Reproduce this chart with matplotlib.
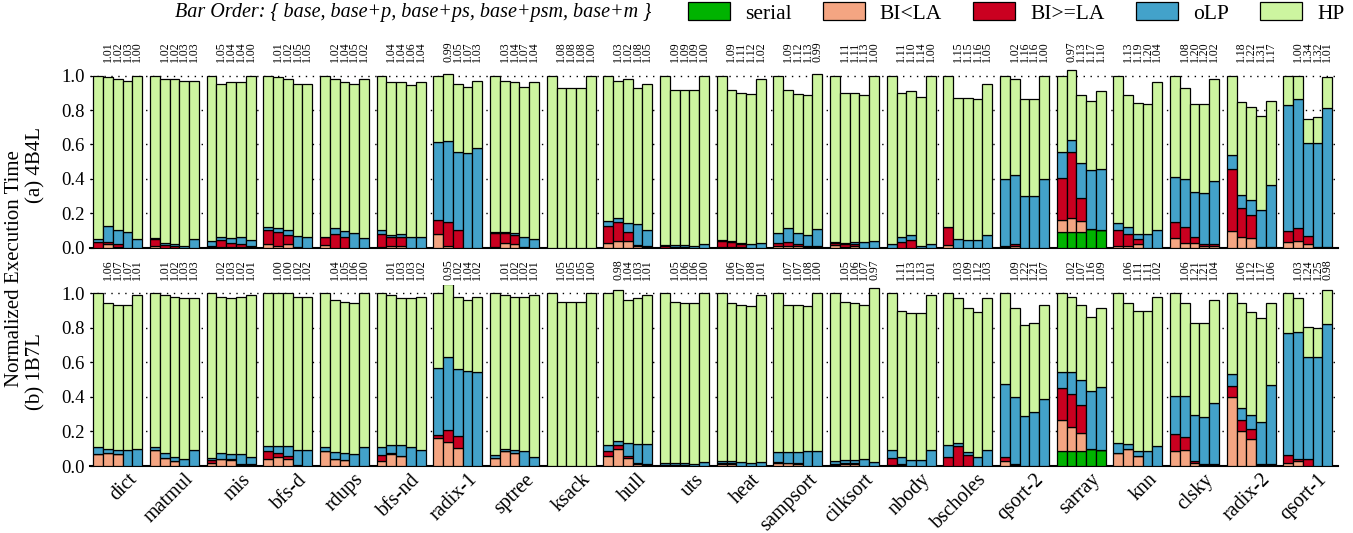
import numpy as np
import matplotlib
matplotlib.use("Agg")
import matplotlib.pyplot as plt
from matplotlib.patches import Patch

plt.rcParams['font.family'] = ['Liberation Serif', 'DejaVu Serif']

benchmarks = ["dict", "matmul", "mis", "bfs-d", "rdups", "bfs-nd", "radix-1",
              "sptree", "ksack", "hull", "uts", "heat", "sampsort", "cilksort",
              "nbody", "bscholes", "qsort-2", "sarray", "knn", "clsky",
              "radix-2", "qsort-1"]

seg_names = ["serial", "BI<LA", "BI>=LA", "oLP", "HP"]
seg_colors = ["#00b300", "#f4a582", "#ca0020", "#43a2ca", "#cdf5a0"]

# ---- 4B4L: speedups of base+p, base+ps, base+psm, base+m over base
speedup_a = [
    [1.01, 1.02, 1.03, 1.00], [1.02, 1.02, 1.03, 1.03], [1.05, 1.04, 1.04, 1.00],
    [1.01, 1.02, 1.05, 1.05], [1.02, 1.04, 1.05, 1.02], [1.04, 1.04, 1.06, 1.04],
    [0.99, 1.05, 1.07, 1.03], [1.03, 1.04, 1.07, 1.04], [1.08, 1.08, 1.08, 1.00],
    [1.03, 1.02, 1.08, 1.05], [1.09, 1.09, 1.09, 1.00], [1.09, 1.11, 1.12, 1.02],
    [1.09, 1.12, 1.13, 0.99], [1.11, 1.11, 1.13, 1.00], [1.11, 1.10, 1.14, 1.00],
    [1.15, 1.15, 1.16, 1.05], [1.02, 1.16, 1.16, 1.00], [0.97, 1.13, 1.17, 1.10],
    [1.13, 1.19, 1.20, 1.04], [1.08, 1.20, 1.20, 1.02], [1.18, 1.22, 1.31, 1.17],
    [1.00, 1.34, 1.32, 1.01]]

serial_a = [[0] * 5 for _ in range(22)]
serial_a[17] = [0.093, 0.093, 0.093, 0.107, 0.100]

bilt_a = [
    [0, 0.02, 0.005, 0, 0], [0.01, 0, 0, 0, 0], [0.005, 0.005, 0.005, 0.005, 0.005],
    [0.02, 0.01, 0.02, 0, 0], [0.015, 0, 0, 0, 0], [0.005, 0.01, 0.01, 0, 0],
    [0.08, 0.01, 0, 0, 0], [0.005, 0.025, 0.02, 0, 0], [0, 0, 0, 0, 0],
    [0.025, 0.04, 0.04, 0.01, 0.005], [0, 0, 0, 0, 0], [0.005, 0.005, 0.005, 0, 0],
    [0.01, 0.01, 0.01, 0.005, 0.005], [0.015, 0.005, 0.01, 0, 0], [0, 0, 0, 0, 0],
    [0.015, 0, 0, 0, 0], [0.005, 0.01, 0, 0, 0], [0.068, 0.078, 0.062, 0, 0],
    [0.01, 0.01, 0.02, 0, 0], [0.055, 0.03, 0.03, 0.01, 0.01],
    [0.097, 0.064, 0.054, 0.005, 0.005], [0.031, 0.037, 0.023, 0.005, 0.005]]

bige_a = [
    [0.035, 0.015, 0.015, 0, 0], [0.04, 0.015, 0.01, 0, 0], [0.005, 0.04, 0.025, 0.015, 0.005],
    [0.085, 0.08, 0.055, 0.005, 0], [0.045, 0.08, 0.06, 0, 0], [0.075, 0.055, 0.055, 0, 0],
    [0.08, 0.14, 0.105, 0, 0], [0.08, 0.06, 0.055, 0.005, 0], [0, 0, 0, 0, 0],
    [0.1, 0.11, 0.05, 0.005, 0.005], [0.01, 0.005, 0.005, 0, 0], [0.035, 0.03, 0.015, 0, 0],
    [0.015, 0.025, 0.01, 0.005, 0.005], [0.01, 0.015, 0.01, 0, 0], [0, 0.035, 0.045, 0, 0],
    [0.105, 0, 0, 0, 0], [0.005, 0.01, 0, 0, 0], [0.246, 0.384, 0.136, 0, 0],
    [0.095, 0.07, 0.03, 0, 0], [0.097, 0.09, 0.035, 0.01, 0.01],
    [0.36, 0.165, 0.136, 0, 0], [0.068, 0.08, 0.047, 0, 0]]

olp_a = [
    [0.015, 0.09, 0.08, 0.09, 0.05], [0.005, 0.015, 0.01, 0.01, 0.05],
    [0.03, 0.015, 0.025, 0.04, 0.035], [0.015, 0.025, 0.03, 0.065, 0.06],
    [0.005, 0.035, 0.035, 0.085, 0.055], [0.02, 0.01, 0.015, 0.06, 0.065],
    [0.455, 0.47, 0.45, 0.55, 0.58], [0.005, 0.005, 0.01, 0.06, 0.05],
    [0, 0, 0, 0, 0], [0.03, 0.02, 0.055, 0.12, 0.09],
    [0.005, 0.01, 0.01, 0.01, 0.02], [0.005, 0.005, 0.005, 0.02, 0.025],
    [0.06, 0.08, 0.065, 0.065, 0.1], [0.01, 0.01, 0.015, 0.035, 0.04],
    [0.02, 0.03, 0.03, 0.01, 0.02], [0, 0.05, 0.045, 0.045, 0.075],
    [0.39, 0.40, 0.30, 0.30, 0.40], [0.147, 0.07, 0.2, 0.343, 0.36],
    [0.04, 0.04, 0.03, 0.08, 0.105], [0.26, 0.28, 0.26, 0.3, 0.37],
    [0.083, 0.08, 0.087, 0.217, 0.357], [0.73, 0.745, 0.537, 0.605, 0.81]]

# ---- 1B7L
speedup_b = [
    [1.06, 1.07, 1.07, 1.01], [1.01, 1.02, 1.03, 1.03], [1.02, 1.03, 1.02, 1.01],
    [1.00, 1.00, 1.02, 1.02], [1.04, 1.05, 1.06, 1.00], [1.01, 1.03, 1.03, 1.02],
    [0.95, 1.02, 1.04, 1.02], [1.01, 1.02, 1.02, 1.01], [1.05, 1.05, 1.05, 1.00],
    [0.98, 1.04, 1.03, 1.01], [1.05, 1.06, 1.06, 1.00], [1.06, 1.07, 1.08, 1.01],
    [1.07, 1.07, 1.08, 1.00], [1.05, 1.06, 1.07, 0.97], [1.11, 1.13, 1.13, 1.01],
    [1.03, 1.09, 1.12, 1.03], [1.09, 1.22, 1.21, 1.07], [1.02, 1.07, 1.16, 1.09],
    [1.06, 1.11, 1.11, 1.02], [1.06, 1.21, 1.21, 1.04], [1.06, 1.12, 1.17, 1.06],
    [1.03, 1.24, 1.25, 0.98]]

serial_b = [[0] * 5 for _ in range(22)]
serial_b[17] = [0.087, 0.087, 0.087, 0.097, 0.093]

bilt_b = [
    [0.068, 0.077, 0.068, 0, 0], [0.09, 0.048, 0.03, 0, 0], [0.02, 0.04, 0.035, 0.005, 0.005],
    [0.04, 0.055, 0.04, 0.005, 0], [0.085, 0.043, 0.035, 0, 0], [0.03, 0.07, 0.06, 0, 0],
    [0.165, 0.14, 0.106, 0, 0], [0.044, 0.087, 0.077, 0, 0], [0, 0, 0, 0, 0],
    [0.06, 0.1, 0.048, 0.01, 0.005], [0, 0, 0, 0, 0], [0.01, 0.01, 0, 0, 0],
    [0.02, 0.02, 0.01, 0, 0], [0.005, 0.01, 0.01, 0, 0], [0.005, 0.005, 0, 0, 0],
    [0, 0, 0, 0, 0], [0.03, 0.005, 0, 0, 0], [0.18, 0.14, 0.106, 0, 0],
    [0.073, 0.097, 0.06, 0, 0], [0.085, 0.09, 0.015, 0.005, 0.005],
    [0.4, 0.2, 0.158, 0.005, 0.005], [0.02, 0.03, 0, 0, 0]]

bige_b = [
    [0, 0, 0, 0, 0], [0, 0, 0, 0, 0], [0.015, 0, 0.005, 0.005, 0.005],
    [0.045, 0.02, 0.02, 0, 0], [0, 0, 0, 0, 0], [0.035, 0.005, 0, 0, 0],
    [0.015, 0.066, 0.068, 0, 0], [0.005, 0, 0, 0, 0], [0, 0, 0, 0, 0],
    [0.025, 0.02, 0.01, 0.005, 0.005], [0.005, 0.005, 0.005, 0, 0], [0.01, 0.01, 0, 0, 0],
    [0.005, 0, 0.01, 0, 0], [0.005, 0.005, 0.005, 0, 0], [0.04, 0.005, 0, 0, 0],
    [0.054, 0.118, 0.066, 0, 0], [0.023, 0.005, 0, 0, 0], [0.183, 0.19, 0.16, 0, 0],
    [0, 0, 0, 0, 0], [0.1, 0.08, 0.013, 0.005, 0.005],
    [0.064, 0.068, 0.054, 0.005, 0.005], [0.042, 0.01, 0.04, 0, 0]]

olp_b = [
    [0.044, 0.023, 0.025, 0.09, 0.1], [0.02, 0.025, 0.025, 0.04, 0.09],
    [0.01, 0.035, 0.03, 0.06, 0.04], [0.03, 0.04, 0.055, 0.09, 0.09],
    [0.025, 0.037, 0.04, 0.07, 0.108], [0.045, 0.045, 0.06, 0.108, 0.09],
    [0.386, 0.426, 0.39, 0.55, 0.546], [0.013, 0.01, 0.015, 0.088, 0.054],
    [0, 0, 0, 0, 0], [0.039, 0.023, 0.077, 0.115, 0.115],
    [0.015, 0.01, 0.01, 0.01, 0.025], [0.01, 0.01, 0.023, 0.02, 0.023],
    [0.058, 0.063, 0.064, 0.087, 0.087], [0.02, 0.02, 0.02, 0.04, 0.025],
    [0.046, 0.04, 0.037, 0.037, 0.09], [0.066, 0.013, 0.015, 0.05, 0.093],
    [0.42, 0.39, 0.29, 0.315, 0.386], [0.093, 0.13, 0.145, 0.338, 0.367],
    [0.058, 0.029, 0.029, 0.089, 0.114], [0.222, 0.237, 0.265, 0.272, 0.353],
    [0.071, 0.07, 0.081, 0.245, 0.46], [0.708, 0.734, 0.59, 0.633, 0.82]]

NB = 5          # bars per benchmark
PITCH = 5.8     # group spacing in bar widths


def draw_panel(ax, speedup, serial, bilt, bige, olp, label):
    speedup = np.array(speedup)
    # bar 0 is the baseline (1.0); the others are 1/speedup
    totals = np.hstack([np.ones((len(speedup), 1)), 1.0 / speedup])
    lower = [np.array(serial), np.array(bilt), np.array(bige), np.array(olp)]
    hp = totals - sum(lower)
    segs = lower + [hp]
    for j in range(NB):
        x = np.arange(len(benchmarks)) * PITCH + j
        bottom = np.zeros(len(benchmarks))
        for k, vals in enumerate(segs):
            ax.bar(x, vals[:, j], 1.0, bottom=bottom, color=seg_colors[k],
                   edgecolor='black', linewidth=0.9, zorder=3)
            bottom += vals[:, j]
    # speedup labels above bars 2..5
    for g in range(len(benchmarks)):
        for j in range(1, NB):
            ax.text(g * PITCH + j, 1.08, '%.2f' % speedup[g, j - 1], rotation=90,
                    ha='center', va='bottom', fontsize=8.5, clip_on=False)
    ax.set_xlim(-0.85, (len(benchmarks) - 1) * PITCH + NB - 0.5 + 0.6)
    ax.set_ylim(0, 1.05)
    ax.set_yticks(np.arange(0, 1.01, 0.2))
    ax.set_yticklabels(['%.1f' % v for v in np.arange(0, 1.01, 0.2)], fontsize=13.5)
    ax.yaxis.grid(True, linestyle=(0, (1, 4)), color='black', linewidth=1.0, zorder=0)
    ax.set_axisbelow(True)
    for s in ['top', 'right', 'left']:
        ax.spines[s].set_visible(False)
    ax.spines['bottom'].set_linewidth(1.5)
    ax.tick_params(axis='y', direction='in', length=3, pad=4)
    ax.tick_params(axis='x', length=0)
    ax.set_ylabel(label, fontsize=15)


fig = plt.figure(figsize=(13.53, 5.33), dpi=100)
ax_a = fig.add_axes([0.0665, 0.5353, 0.9225, 0.3388])
ax_b = fig.add_axes([0.0665, 0.1257, 0.9225, 0.3400])

draw_panel(ax_a, speedup_a, serial_a, bilt_a, bige_a, olp_a, '(a) 4B4L')
draw_panel(ax_b, speedup_b, serial_b, bilt_b, bige_b, olp_b, '(b) 1B7L')
ax_a.yaxis.set_label_coords(-0.036, 0.46)
ax_b.yaxis.set_label_coords(-0.036, 0.52)

ax_a.set_xticks([])
centers = np.arange(len(benchmarks)) * PITCH + 2
ax_b.set_xticks(centers + 1.0)
ax_b.set_xticklabels(benchmarks, rotation=45, ha='right', rotation_mode='anchor',
                     fontsize=14.5)
ax_b.tick_params(axis='x', pad=3)

fig.text(0.011, 0.497, 'Normalized Execution Time', rotation=90,
         ha='center', va='center', fontsize=15)

fig.text(175 / 1353, 1 - 13 / 533, 'Bar Order: { base, base+p, base+ps, base+psm, base+m }',
         style='italic', fontsize=14.5, ha='left', va='center')
handles = [Patch(facecolor=c, edgecolor='black', linewidth=0.9) for c in seg_colors]
fig.legend(handles, seg_names, loc='center left', bbox_to_anchor=(688 / 1353, 1 - 13 / 533),
           ncol=5, frameon=False, fontsize=15.5, handlelength=1.95, handleheight=0.85,
           handletextpad=0.7, columnspacing=1.45, borderpad=0, borderaxespad=0)

fig.savefig('out.png', dpi=100)
